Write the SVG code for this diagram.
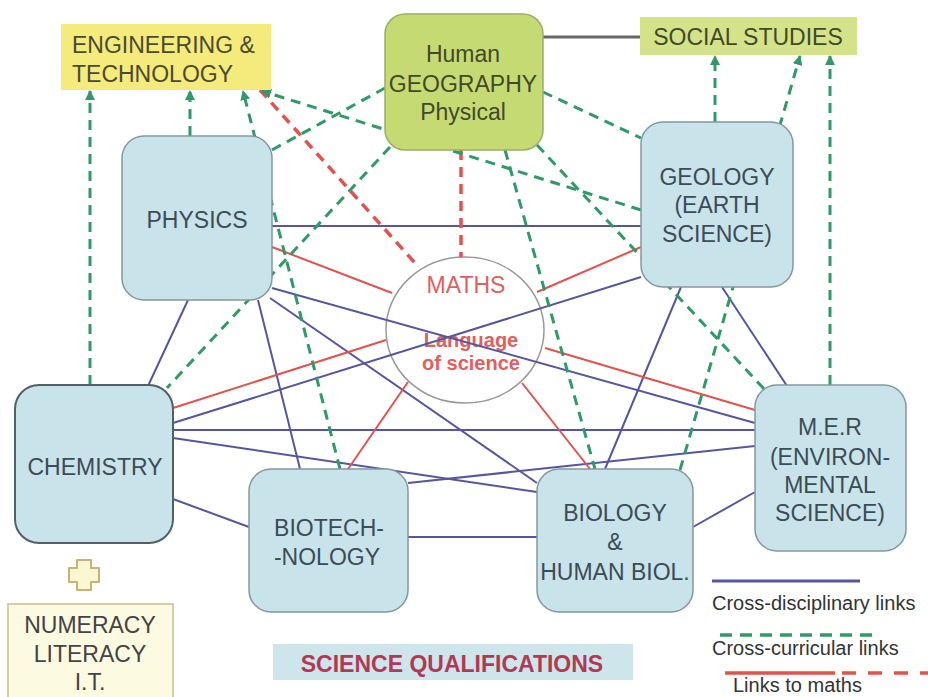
<svg xmlns="http://www.w3.org/2000/svg" width="928" height="697" viewBox="0 0 928 697">
<defs>
<style>
.box{fill:#c9e3ea;stroke:#8498a0;stroke-width:1.5}
.lbl{font-family:"Liberation Sans",Arial,sans-serif;font-size:23px;fill:#3b4c56;text-anchor:middle}
.cd{stroke:#5656a0;stroke-width:2;fill:none}
.cc{stroke:#2f9a68;stroke-width:3;stroke-dasharray:10 7;fill:none}
.rm{stroke:#e3524d;stroke-width:2;fill:none}
.rmd{stroke:#e3524d;stroke-width:3.5;stroke-dasharray:10 7;fill:none}
.leg{font-family:"Liberation Sans",Arial,sans-serif;font-size:20px;fill:#333}
</style>
<marker id="arr" viewBox="0 0 10 10" refX="9" refY="5" markerWidth="10" markerHeight="10" markerUnits="userSpaceOnUse" orient="auto">
<path d="M0,0 L10,5 L0,10 z" fill="#2f9a68"/>
</marker>
</defs>
<rect width="928" height="697" fill="#ffffff"/>

<g id="maths">
<ellipse cx="465" cy="330" rx="79" ry="73" fill="#ffffff" stroke="#999" stroke-width="1.5"/>
<text x="466" y="293" class="lbl" style="fill:#e06060">MATHS</text>
<text x="471" y="347" class="lbl" style="fill:#e06060;font-size:20px;font-weight:bold">Language</text>
<text x="471" y="370" class="lbl" style="fill:#e06060;font-size:20px;font-weight:bold">of science</text>
</g>

<g id="connectors">
<line x1="543" y1="37" x2="640" y2="37" stroke="#666" stroke-width="3"/>
<g class="cd-group">
<line class="cd" x1="272" y1="226" x2="641" y2="226"/>
<line class="cd" x1="272" y1="288" x2="755" y2="423"/>
<line class="cd" x1="270" y1="298" x2="537" y2="483"/>
<line class="cd" x1="188" y1="300" x2="148" y2="386"/>
<line class="cd" x1="258" y1="300" x2="300" y2="469"/>
<line class="cd" x1="641" y1="277" x2="173" y2="423"/>
<line class="cd" x1="681" y1="287" x2="605" y2="469"/>
<line class="cd" x1="722" y1="287" x2="787" y2="386"/>
<line class="cd" x1="173" y1="430" x2="755" y2="430"/>
<line class="cd" x1="173" y1="438" x2="537" y2="492"/>
<line class="cd" x1="173" y1="499" x2="249" y2="527"/>
<line class="cd" x1="408" y1="537" x2="537" y2="537"/>
<line class="cd" x1="408" y1="483" x2="755" y2="446"/>
<line class="cd" x1="693" y1="527" x2="755" y2="492"/>
</g>
<g class="rm-group">
<line class="rm" x1="272" y1="247" x2="392" y2="293"/>
<line class="rm" x1="641" y1="247" x2="537" y2="292"/>
<line class="rm" x1="173" y1="408" x2="386" y2="340"/>
<line class="rm" x1="755" y1="410" x2="545" y2="348"/>
<line class="rm" x1="348" y1="469" x2="408" y2="382"/>
<line class="rm" x1="590" y1="469" x2="522" y2="383"/>
<line class="rmd" x1="260" y1="90" x2="415" y2="263"/>
<line class="rmd" x1="461" y1="150" x2="461" y2="257"/>
</g>
<g class="cc-group">
<line class="cc" x1="90" y1="385" x2="90" y2="91" marker-end="url(#arr)"/>
<line class="cc" x1="190" y1="136" x2="190" y2="91" marker-end="url(#arr)"/>
<line class="cc" x1="340" y1="469" x2="243" y2="91" marker-end="url(#arr)"/>
<line class="cc" x1="641" y1="210" x2="262" y2="91" marker-end="url(#arr)"/>
<line class="cc" x1="272" y1="150" x2="385" y2="88"/>
<line class="cc" x1="390" y1="147" x2="167" y2="388"/>
<line class="cc" x1="543" y1="92" x2="641" y2="138"/>
<line class="cc" x1="505" y1="150" x2="595" y2="469"/>
<line class="cc" x1="537" y1="145" x2="765" y2="390"/>
<line class="cc" x1="715" y1="122" x2="715" y2="56" marker-end="url(#arr)"/>
<line class="cc" x1="680" y1="470" x2="800" y2="56" marker-end="url(#arr)"/>
<line class="cc" x1="830" y1="385" x2="830" y2="56" marker-end="url(#arr)"/>
</g>
</g>

<g id="engineering">
<rect x="61" y="24" width="210" height="66" fill="#f5ea7c"/>
<text x="72" y="53" class="lbl" style="text-anchor:start;fill:#4a4a30">ENGINEERING &amp;</text>
<text x="72" y="82" class="lbl" style="text-anchor:start;fill:#4a4a30">TECHNOLOGY</text>
</g>

<g id="geography">
<rect x="385" y="14" width="158" height="136" rx="20" fill="#c6da74" stroke="#9aae66" stroke-width="1.5"/>
<text x="463" y="62" class="lbl" style="fill:#414a26">Human</text>
<text x="463" y="92" class="lbl" style="fill:#414a26">GEOGRAPHY</text>
<text x="463" y="120" class="lbl" style="fill:#414a26">Physical</text>
</g>

<g id="social">
<rect x="640" y="17" width="217" height="38" fill="#d4e38a"/>
<text x="748" y="45" class="lbl" style="fill:#414a26">SOCIAL STUDIES</text>
</g>

<g id="physics">
<rect x="122" y="136" width="150" height="164" rx="22" class="box"/>
<text x="197" y="228" class="lbl">PHYSICS</text>
</g>

<g id="geology">
<rect x="641" y="122" width="152" height="165" rx="22" class="box"/>
<text x="717" y="185" class="lbl">GEOLOGY</text>
<text x="717" y="213" class="lbl">(EARTH</text>
<text x="717" y="242" class="lbl">SCIENCE)</text>
</g>

<g id="chemistry">
<rect x="15" y="385" width="158" height="158" rx="24" class="box" style="stroke:#4f6068;stroke-width:2"/>
<text x="95" y="475" class="lbl">CHEMISTRY</text>
</g>

<g id="biotech">
<rect x="249" y="469" width="159" height="143" rx="22" class="box"/>
<text x="329" y="536" class="lbl">BIOTECH-</text>
<text x="327" y="565" class="lbl">-NOLOGY</text>
</g>

<g id="biology">
<rect x="537" y="469" width="156" height="143" rx="22" class="box"/>
<text x="615" y="521" class="lbl">BIOLOGY</text>
<text x="615" y="550" class="lbl">&amp;</text>
<text x="615" y="580" class="lbl">HUMAN BIOL.</text>
</g>

<g id="mer">
<rect x="755" y="385" width="151" height="166" rx="22" class="box"/>
<text x="830" y="435" class="lbl">M.E.R</text>
<text x="830" y="465" class="lbl">(ENVIRON-</text>
<text x="830" y="493" class="lbl">MENTAL</text>
<text x="830" y="521" class="lbl">SCIENCE)</text>
</g>

<g id="plus">
<path d="M77,560 H91 V568 H99 V582 H91 V590 H77 V582 H69 V568 H77 Z" fill="#fdf6d2" stroke="#c9b274" stroke-width="2" stroke-linejoin="round"/>
</g>

<g id="numeracy">
<rect x="8" y="604" width="165" height="100" fill="#fdfae2" stroke="#cbbd8e" stroke-width="1.5"/>
<text x="90" y="633" class="lbl" style="fill:#444">NUMERACY</text>
<text x="90" y="662" class="lbl" style="fill:#444">LITERACY</text>
<text x="90" y="690" class="lbl" style="fill:#444">I.T.</text>
</g>

<g id="qualifications">
<rect x="273" y="644" width="360" height="36" fill="#cfe5ec"/>
<text x="452" y="672" class="lbl" style="font-weight:bold;fill:#b03a55">SCIENCE QUALIFICATIONS</text>
</g>

<g id="legend">
<line x1="712" y1="581" x2="860" y2="581" stroke="#5656a0" stroke-width="3"/>
<text x="712" y="610" class="leg">Cross-disciplinary links</text>
<line x1="720" y1="635" x2="873" y2="635" stroke="#2f9a68" stroke-width="3.5" stroke-dasharray="12 8"/>
<text x="712" y="655" class="leg">Cross-curricular links</text>
<line x1="725" y1="673" x2="835" y2="673" stroke="#e3524d" stroke-width="3.5"/>
<line x1="842" y1="673" x2="928" y2="673" stroke="#e3524d" stroke-width="3.5" stroke-dasharray="14 12"/>
<text x="733" y="692" class="leg">Links to maths</text>
</g>
</svg>
